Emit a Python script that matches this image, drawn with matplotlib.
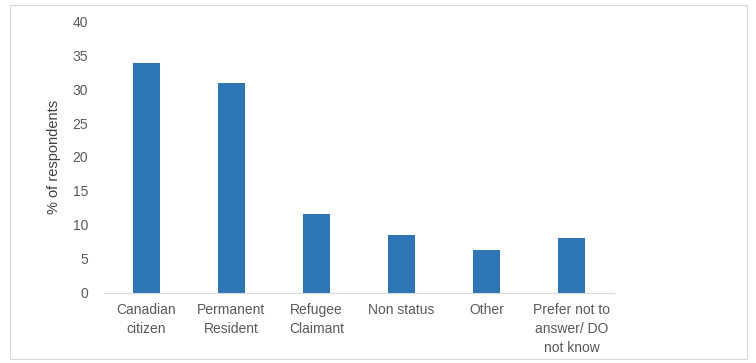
import matplotlib
matplotlib.use("Agg")
import matplotlib.pyplot as plt
from matplotlib.patches import Rectangle
from matplotlib import font_manager

categories = ["Canadian\ncitizen", "Permanent\nResident", "Refugee\nClaimant",
              "Non status", "Other", "Prefer not to\nanswer/ DO\nnot know"]
values = [33.8, 30.9, 11.6, 8.5, 6.3, 8.1]
yticks = [0, 5, 10, 15, 20, 25, 30, 35, 40]

plt.rcParams['font.family'] = ['Liberation Sans', 'DejaVu Sans']
names = {f.name for f in font_manager.fontManager.ttflist}
narrow = 'Liberation Sans Narrow' if 'Liberation Sans Narrow' in names else 'Liberation Sans'

fig = plt.figure(figsize=(7.56, 3.63), dpi=100)
fig.patches.append(Rectangle((0.013, 0.012), 0.975, 0.975, transform=fig.transFigure,
                             fill=False, edgecolor='#d9d9d9', linewidth=0.8))
ax = fig.add_axes([0.1376, 0.193, 0.6744, 0.749])

x = list(range(len(categories)))
ax.bar(x, values, width=0.32, color='#2E75B6')
ax.set_xlim(-0.5, len(categories) - 0.5)
ax.set_ylim(0, 40)
ax.set_yticks(yticks)
ax.set_yticklabels([str(t) for t in yticks], fontsize=10, color='#595959')
ax.set_xticks(x)
ax.set_xticklabels(categories, fontsize=10, color='#595959', linespacing=1.45)
ax.tick_params(axis='both', length=0)
ax.tick_params(axis='y', pad=11.5)
ax.tick_params(axis='x', pad=7)
for s in ['top', 'right', 'left']:
    ax.spines[s].set_visible(False)
ax.spines['bottom'].set_color('#d9d9d9')
ax.spines['bottom'].set_linewidth(0.8)
ax.set_ylabel("% of respondents", fontsize=10.5, color='#404040', labelpad=8,
              family=[narrow, 'DejaVu Sans'])

fig.savefig("out.png", dpi=100)
